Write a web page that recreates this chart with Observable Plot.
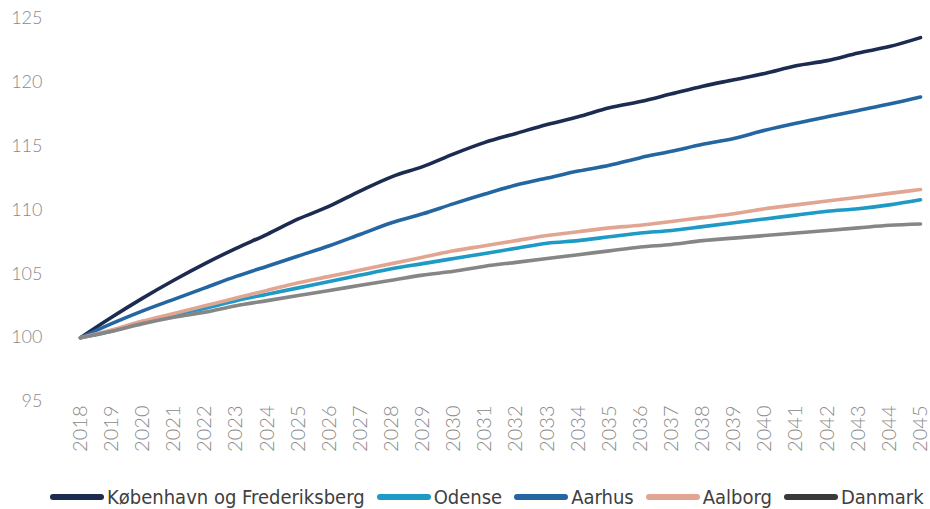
<!DOCTYPE html>
<html>
<head>
<meta charset="utf-8">
<script src="https://cdn.jsdelivr.net/npm/d3@7"></script>
<script src="https://cdn.jsdelivr.net/npm/@observablehq/plot@0.6"></script>
<style>
  html, body { margin: 0; padding: 0; background: #fff; }
  #chart { width: 930px; height: 470px; }
  #legend { display: flex; justify-content: flex-start; align-items: center;
    font-family: "Liberation Sans Narrow", "DejaVu Sans Condensed", sans-serif;
    font-size: 20px; line-height: 24px; color: #404040; margin-top: 15px; padding-left: 50px; white-space: nowrap; }
  .item { display: flex; align-items: center; margin-right: 12px; }
  .sw { display: inline-block; width: 54px; height: 6px; border-radius: 3px; margin-right: 3px; }
  svg text { font-weight: 300; }
</style>
</head>
<body>
<div id="chart"></div>
<div id="legend"></div>
<script>
const years = d3.range(2018, 2046);
const seriesNames = ["København og Frederiksberg", "Odense", "Aarhus", "Aalborg", "Danmark"];
const lineColors = ["#1c2b50", "#1d9ac6", "#2466a1", "#e2a592", "#868686"];
const legendColors = ["#1c2b50", "#1d9ac6", "#2466a1", "#e2a592", "#3a3a3a"];

const kobenhavn = [100, 101.6, 103.1, 104.5, 105.8, 107.0, 108.1, 109.3, 110.3, 111.5, 112.6, 113.4, 114.4, 115.3, 116.0, 116.7, 117.3, 118.0, 118.5, 119.1, 119.7, 120.2, 120.7, 121.3, 121.7, 122.3, 122.8, 123.5];
const odense    = [100, 100.5, 101.2, 101.8, 102.3, 102.9, 103.4, 103.9, 104.4, 104.9, 105.4, 105.8, 106.2, 106.6, 107.0, 107.4, 107.6, 107.9, 108.2, 108.4, 108.7, 109.0, 109.3, 109.6, 109.9, 110.1, 110.4, 110.8];
const aarhus    = [100, 101.1, 102.1, 103.0, 103.9, 104.8, 105.6, 106.4, 107.2, 108.1, 109.0, 109.7, 110.5, 111.25, 111.95, 112.5, 113.05, 113.5, 114.1, 114.6, 115.15, 115.6, 116.25, 116.8, 117.3, 117.8, 118.3, 118.85];
const aalborg   = [100, 100.6, 101.3, 101.9, 102.5, 103.1, 103.7, 104.3, 104.8, 105.3, 105.8, 106.3, 106.8, 107.2, 107.6, 108.0, 108.3, 108.6, 108.8, 109.1, 109.4, 109.7, 110.1, 110.4, 110.7, 111.0, 111.3, 111.6];
const danmark   = [100, 100.5, 101.1, 101.6, 102.0, 102.5, 102.9, 103.3, 103.7, 104.1, 104.5, 104.9, 105.2, 105.6, 105.9, 106.2, 106.5, 106.8, 107.1, 107.3, 107.6, 107.8, 108.0, 108.2, 108.4, 108.6, 108.8, 108.9];
const yTicks = [95, 100, 105, 110, 115, 120, 125];

const allSeries = [kobenhavn, odense, aarhus, aalborg, danmark];
const data = [];
allSeries.forEach((vals, i) => vals.forEach((v, j) => data.push({series: seriesNames[i], year: years[j], value: v})));

const plot = Plot.plot({
  width: 930,
  height: 470,
  marginTop: 18,
  marginBottom: 69,
  marginLeft: 50,
  marginRight: 10,
  insetLeft: 30,
  style: { fontFamily: "Lato, 'Open Sans', sans-serif", fontSize: "18px", color: "#8a8a8a", background: "#fff" },
  x: { type: "linear", domain: [2018, 2045], label: null },
  y: { domain: [95, 125], label: null },
  color: { domain: seriesNames, range: lineColors },
  marks: [
    Plot.axisX({ ticks: years, tickFormat: d => String(d), tickRotate: -90, tickSize: 0, tickPadding: 4, label: null, fontSize: 20 }),
    Plot.axisY({ ticks: yTicks, tickSize: 0, tickPadding: 8, label: null, fontSize: 18 }),
    Plot.line(data, { x: "year", y: "value", z: "series", stroke: "series", strokeWidth: 3.6, strokeLinecap: "round", strokeLinejoin: "round", curve: "monotone-x" })
  ]
});
document.getElementById("chart").appendChild(plot);

const legend = document.getElementById("legend");
seriesNames.forEach((name, i) => {
  const item = document.createElement("span");
  item.className = "item";
  const sw = document.createElement("span");
  sw.className = "sw";
  sw.style.background = legendColors[i];
  item.appendChild(sw);
  item.appendChild(document.createTextNode(name));
  legend.appendChild(item);
});
</script>
</body>
</html>
